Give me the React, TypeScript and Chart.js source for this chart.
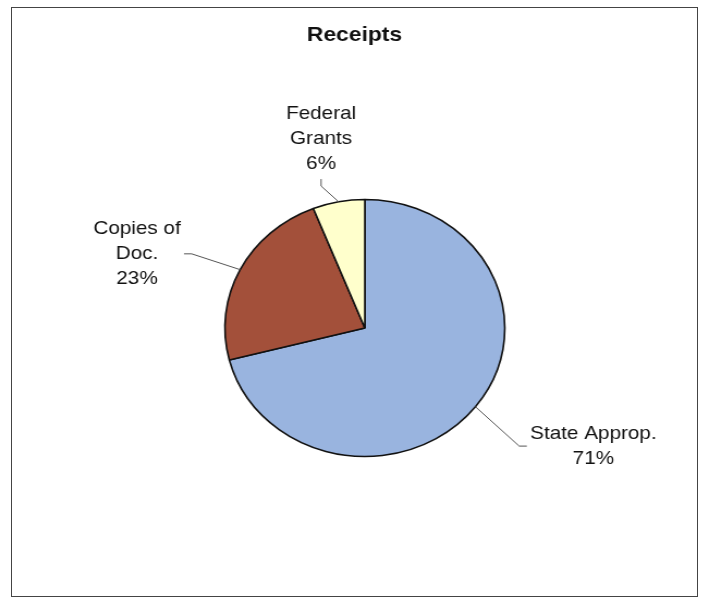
import React, { useEffect, useRef } from "react";
import { Chart, registerables } from "chart.js";

Chart.register(...registerables);

// ---- data ----
const chartTitle = "Receipts";
const categories: string[][] = [["State Approp."], ["Copies of", "Doc."], ["Federal", "Grants"]];
const values: number[] = [71, 23, 6];
const sliceColors: string[] = ["#99B4DF", "#A3503A", "#FFFFCC"];

// ---- label layout (styling) ----
const leaderLen = [56, 47, 19];
const leaderShiftDeg = [2, -2, -5];
const TAIL = 7;
const GAP = 3;
const LINE_H = 25;
const LABEL_FONT = '19px "Liberation Sans", Arial, sans-serif';
const TITLE_FONT = 'bold 21px "Liberation Sans", Arial, sans-serif';

const INNER_W = 629;
const INNER_H = 588;
const CSS_W = 685;

const labelPlugin = {
  id: "pieLabels",
  afterDraw(chart: any) {
    const ctx: CanvasRenderingContext2D = chart.ctx;
    const meta = chart.getDatasetMeta(0);
    const data = chart.data.datasets[0].data as number[];
    const total = data.reduce((a, b) => a + b, 0);
    ctx.save();
    // title
    ctx.font = TITLE_FONT;
    ctx.fillStyle = "#111";
    ctx.textAlign = "center";
    ctx.textBaseline = "middle";
    ctx.fillText(chartTitle, chart.width / 2, 27);

    ctx.font = LABEL_FONT;
    meta.data.forEach((arc: any, i: number) => {
      const { x, y, startAngle, endAngle, outerRadius } = arc.getProps(
        ["x", "y", "startAngle", "endAngle", "outerRadius"],
        true
      );
      const mid = (startAngle + endAngle) / 2;
      const p0x = x + Math.cos(mid) * outerRadius;
      const p0y = y + Math.sin(mid) * outerRadius;
      const a2 = mid + (leaderShiftDeg[i] * Math.PI) / 180;
      const R = outerRadius + leaderLen[i];
      const dx = Math.cos(a2);
      const dy = Math.sin(a2);
      const p1x = x + dx * R;
      const p1y = y + dy * R;
      const lines = [...chart.data.labels[i], `${Math.round((data[i] / total) * 100)}%`];
      const widths = lines.map((l: string) => ctx.measureText(l).width);
      const bw = Math.max(...widths);
      let p2x = p1x;
      let p2y = p1y;
      let cx = 0;
      let firstY = 0;
      if (Math.abs(dx) > 0.5) {
        const s = Math.sign(dx);
        p2x = p1x + s * TAIL;
        cx = s > 0 ? p2x + GAP + bw / 2 : p2x - GAP - bw / 2;
        firstY = p1y - ((lines.length - 1) * LINE_H) / 2;
      } else {
        const s = Math.sign(dy);
        p2y = p1y + s * TAIL;
        cx = p1x;
        if (s < 0) {
          const lastY = p2y - GAP - LINE_H / 2;
          firstY = lastY - (lines.length - 1) * LINE_H;
        } else {
          firstY = p2y + GAP + LINE_H / 2;
        }
      }
      ctx.strokeStyle = "#555";
      ctx.lineWidth = 1;
      ctx.beginPath();
      ctx.moveTo(p0x, p0y);
      ctx.lineTo(p1x, p1y);
      ctx.lineTo(p2x, p2y);
      ctx.stroke();

      ctx.fillStyle = "#111";
      ctx.textAlign = "center";
      ctx.textBaseline = "middle";
      lines.forEach((l: string, k: number) => {
        ctx.fillText(l, cx, firstY + k * LINE_H);
      });
    });
    ctx.restore();
  },
};

export default function App() {
  const ref = useRef<HTMLCanvasElement | null>(null);
  useEffect(() => {
    if (!ref.current) return;
    const chart = new Chart(ref.current, {
      type: "pie",
      data: {
        labels: categories as any,
        datasets: [
          {
            data: values,
            backgroundColor: sliceColors,
            borderColor: "#111",
            borderWidth: 1.6,
          },
        ],
      },
      options: {
        animation: false,
        responsive: false,
        devicePixelRatio: 1,
        radius: 128.5,
        layout: { padding: { left: 19, right: 0, top: 52, bottom: 0 } },
        plugins: {
          legend: { display: false },
          tooltip: { enabled: false },
          title: { display: false },
        },
      } as any,
      plugins: [labelPlugin],
    });
    return () => chart.destroy();
  }, []);

  return (
    <div
      style={{
        position: "absolute",
        left: 11,
        top: 7,
        width: 687,
        height: 590,
        border: "1px solid #444",
        boxSizing: "border-box",
        background: "#fff",
      }}
    >
      <canvas
        ref={ref}
        width={INNER_W}
        height={INNER_H}
        style={{ width: CSS_W + "px", height: INNER_H + "px", display: "block" }}
      />
    </div>
  );
}
